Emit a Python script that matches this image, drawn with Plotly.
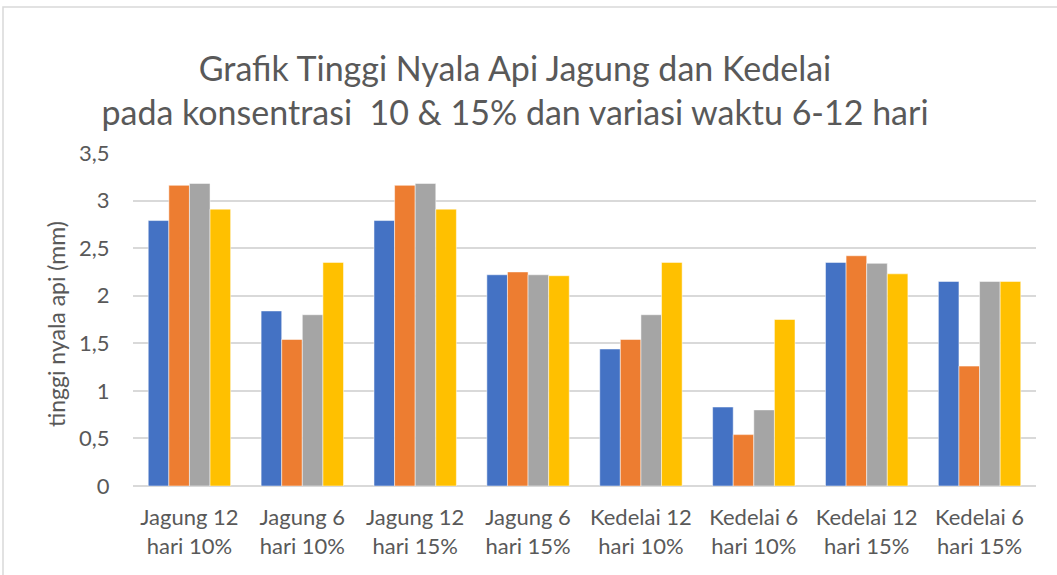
import plotly.graph_objects as go

categories = ["Jagung 12<br>hari 10%", "Jagung 6<br>hari 10%", "Jagung 12<br>hari 15%", "Jagung 6<br>hari 15%",
              "Kedelai 12<br>hari 10%", "Kedelai 6<br>hari 10%", "Kedelai 12<br>hari 15%", "Kedelai 6<br>hari 15%"]
series1 = [2.79, 1.84, 2.79, 2.22, 1.44, 0.83, 2.35, 2.15]
series2 = [3.16, 1.54, 3.16, 2.25, 1.54, 0.54, 2.42, 1.26]
series3 = [3.18, 1.80, 3.18, 2.22, 1.80, 0.80, 2.34, 2.15]
series4 = [2.91, 2.35, 2.91, 2.21, 2.35, 1.75, 2.23, 2.15]
series_names = ["Seri 1", "Seri 2", "Seri 3", "Seri 4"]
colors = ["#4472C4", "#ED7D31", "#A5A5A5", "#FFC000"]
y_title = "tinggi nyala api (mm)"
chart_title = "Grafik Tinggi Nyala Api Jagung dan Kedelai<br>pada konsentrasi  10 & 15% dan variasi waktu 6-12 hari"

W, H = 1057, 575
L, R, T, B = 133, 21, 153, 89
pw = W - L - R
ph = H - T - B

fig = go.Figure()
for name, vals, c in zip(series_names, [series1, series2, series3, series4], colors):
    fig.add_trace(go.Bar(x=categories, y=vals, name=name,
                         marker=dict(color=c, line=dict(color="white", width=0.5))))

font_fam = "Lato, Noto Sans, sans-serif"
txt = "#595959"
fig.update_layout(
    width=W, height=H,
    margin=dict(l=L, r=R, t=T, b=B),
    paper_bgcolor="white", plot_bgcolor="white",
    barmode="group", bargap=0.27, bargroupgap=0,
    showlegend=False,
    separators=", ",
    font=dict(family=font_fam, color=txt, size=21),
    title=dict(text=chart_title,
               x=(515 - L) / pw, xref="paper", xanchor="center",
               y=1 - 81 / H, yref="container", yanchor="middle",
               font=dict(size=34, color=txt, family=font_fam)),
    xaxis=dict(showgrid=False, showline=False, ticks="outside", ticklen=12, tickcolor="rgba(0,0,0,0)",
               tickfont=dict(size=22, color=txt)),
    yaxis=dict(range=[0, 3.5], dtick=0.5, showgrid=True, gridcolor="#D9D9D9", gridwidth=1.5,
               zeroline=True, zerolinecolor="#D9D9D9", zerolinewidth=1.5, showline=False,
               ticks="outside", ticklen=18, tickcolor="rgba(0,0,0,0)",
               tickfont=dict(size=22, color=txt)),
    annotations=[dict(text=y_title, textangle=-90, xref="paper", yref="paper",
                      x=(56 - L) / pw, y=(H - B - 324) / ph, xanchor="center", yanchor="middle",
                      showarrow=False, font=dict(size=23, color=txt, family=font_fam))],
    shapes=[dict(type="rect", xref="paper", yref="paper",
                 x0=(3 - L) / pw, x1=(W + 5 - L) / pw, y0=-(B + 5) / ph, y1=1 + (T - 7) / ph,
                 line=dict(color="#D9D9D9", width=1.5), fillcolor="rgba(0,0,0,0)", layer="below")],
)
fig.write_html("out.html", config={"displayModeBar": False},
               post_script="document.body.style.margin='0';document.body.style.overflow='hidden';")
